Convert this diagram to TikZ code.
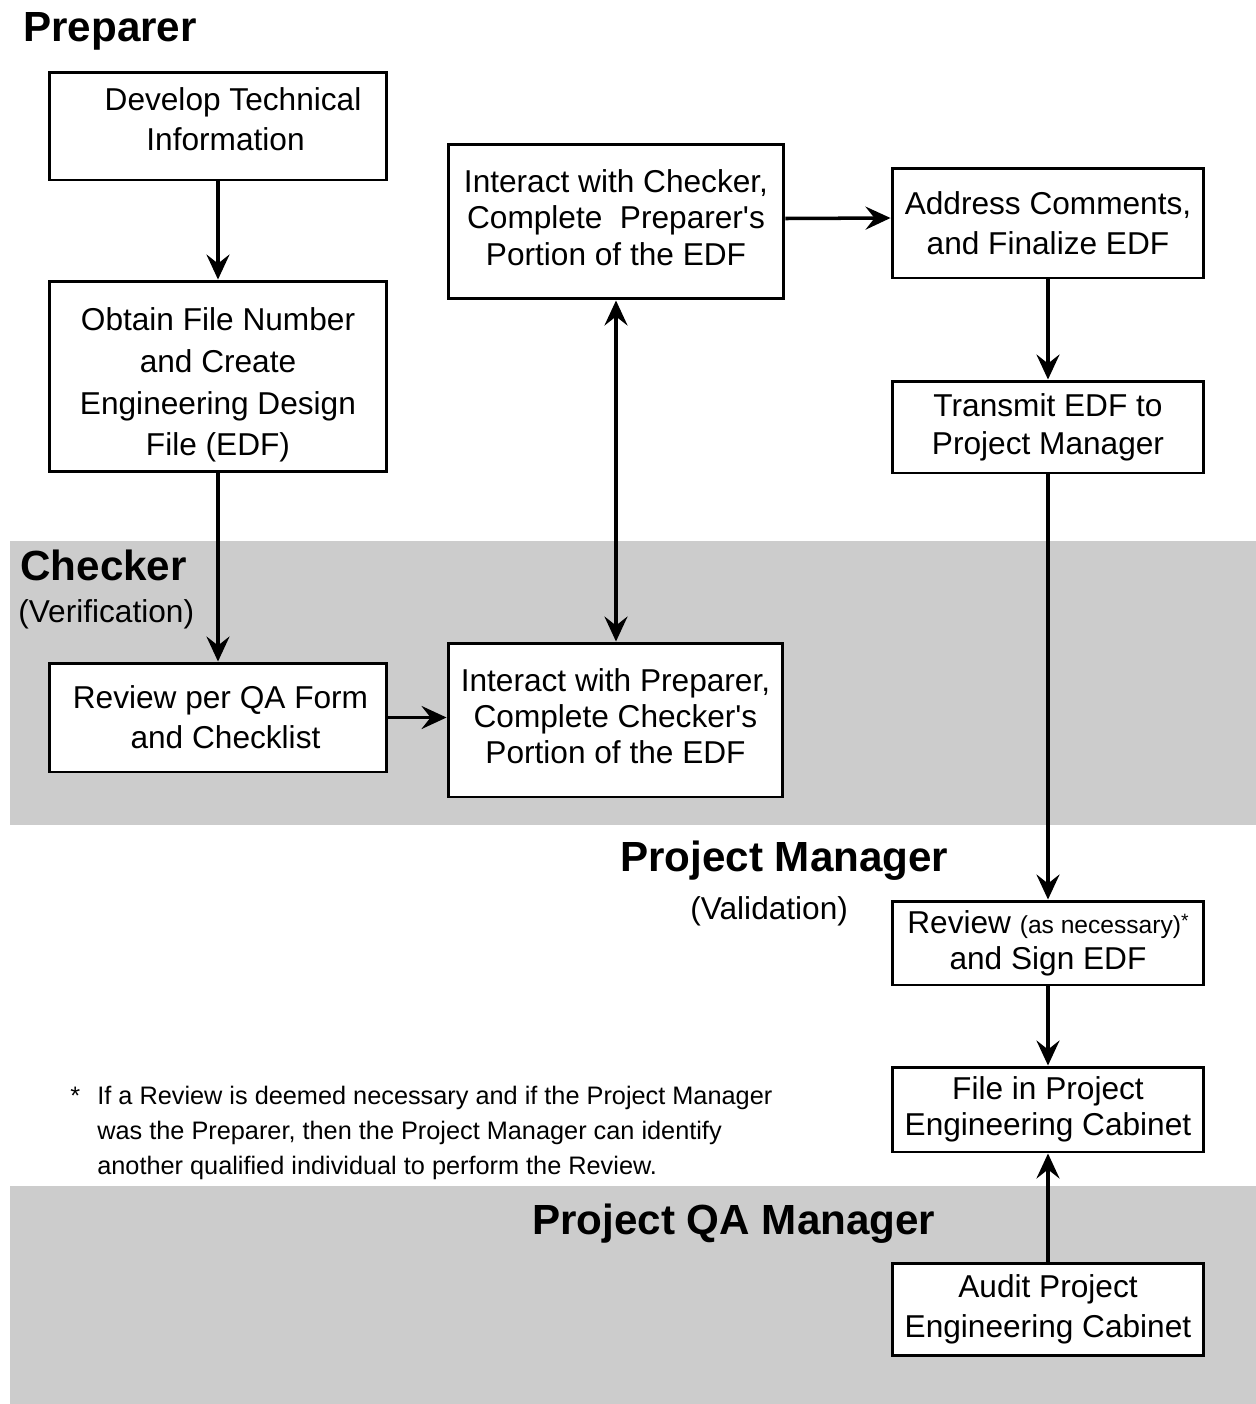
\documentclass[tikz,border=0pt]{standalone}
\usepackage{fontspec}
\setmainfont{Liberation Sans}
\definecolor{bandgray}{gray}{0.8}
\usetikzlibrary{arrows.meta, positioning}
\tikzset{
	stepbox/.style={shape=rectangle, draw=black, line width=1.7pt, fill=white,
		align=center, inner sep=1pt, font=\fontsize{18}{22.7}\selectfont},
	tightbox/.style={stepbox, font=\fontsize{18}{20.7}\selectfont},
	rolename/.style={inner sep=0pt, anchor=base west, font=\fontsize{24}{28}\selectfont\bfseries},
	rolenote/.style={inner sep=0pt, anchor=base west, font=\fontsize{18}{22}\selectfont},
	dart/.tip={Stealth[length=0.5cm, width=0.46cm, inset=0.18cm]},
	flow/.style={line width=2pt, -dart}
}
% extra depth below the last line, lifts the text in its box
\newcommand{\lift}[1]{\rule[-#1]{0pt}{#1}}

\begin{document}
\begin{tikzpicture}[x=0.02cm, y=-0.02cm]
	\useasboundingbox (0,0) rectangle (1256,1404);

	% swim lanes
	\fill[bandgray] (10,541) rectangle (1256,825);
	\fill[bandgray] (10,1186) rectangle (1256,1404);

	% role titles
	\node[rolename] at (23,41) (TPrep){Preparer};
	\node[rolename] at (20,580) (TChk){Checker};
	\node[rolenote] at (18,622) (TVer){(Verification)};
	\node[rolename] at (620,871) (TPM){Project Manager};
	\node[rolenote] at (690,919) (TVal){(Validation)};
	\node[rolename] at (532,1234) (TQA){Project QA Manager};

	% steps
	\node[stepbox, minimum width=6.76cm, minimum height=2.16cm] at (218,126) (Dev){\hspace*{0.6cm}Develop Technical\\\hspace*{0.3cm}Information\lift{0.28cm}};
	\node[stepbox, minimum width=6.76cm, minimum height=3.82cm, font=\fontsize{18}{23.8}\selectfont] at (218,376.5) (Obtain){\rule{0pt}{0.8cm}Obtain File Number\\and Create\\Engineering Design\\File (EDF)};
	\node[stepbox, minimum width=6.76cm, minimum height=2.18cm] at (218,717.5) (RevQA){\hspace*{0.1cm}Review per QA Form\\\hspace*{0.3cm}and Checklist};
	\node[tightbox, minimum width=6.72cm, minimum height=3.1cm] at (616,221.5) (PrepEDF){Interact with Checker,\\Complete\ \ Preparer\textquotesingle s\\Portion of the EDF\lift{0.16cm}};
	\node[tightbox, minimum width=6.7cm, minimum height=3.08cm] at (615.5,720) (ChkEDF){Interact with Preparer,\\Complete Checker\textquotesingle s\\Portion of the EDF\lift{0.16cm}};
	\node[stepbox, minimum width=6.24cm, minimum height=2.2cm] at (1048,223) (Addr){Address Comments,\\and Finalize EDF};
	\node[stepbox, minimum width=6.24cm, minimum height=1.84cm, font=\fontsize{18}{21.5}\selectfont] at (1048,427) (Send){Transmit EDF to\\Project Manager};
	\node[tightbox, minimum width=6.24cm, minimum height=1.68cm] at (1048,943) (Sign){Review {\fontsize{14}{16}\selectfont(as necessary)\raisebox{0.45ex}{\fontsize{11}{12}\selectfont*}}\\and Sign EDF};
	\node[tightbox, minimum width=6.24cm, minimum height=1.7cm] at (1048,1109.5) (File){File in Project\\Engineering Cabinet};
	\node[stepbox, minimum width=6.24cm, minimum height=1.84cm] at (1048,1309) (Audit){Audit Project\\Engineering Cabinet};

	% footnote
	\node[inner sep=0pt, anchor=base west, font=\fontsize{14.4}{19.9}\selectfont] at (70,1104) (Star){*};
	\node[inner sep=0pt, anchor=north west, align=left, font=\fontsize{14.4}{19.9}\selectfont] at (97,1086) (Note){If a Review is deemed necessary and if the Project Manager\\was the Preparer, then the Project Manager can identify\\another qualified individual to perform the Review.};

	% flow
	\draw[flow] (Dev) -- (Obtain);
	\draw[flow] (Obtain) -- (RevQA);
	\draw[flow] (RevQA.east) -- (RevQA.east -| ChkEDF.west);
	\draw[flow, dart-dart] (PrepEDF.south) -- (PrepEDF.south |- ChkEDF.north);
	\draw[flow] (PrepEDF.east) ++(0,-3) -- (Addr.west |- 0,218);
	\draw[flow] (Addr) -- (Send);
	\draw[flow] (Send) -- (Sign);
	\draw[flow] (Sign) -- (File);
	\draw[flow] (Audit) -- (File);
\end{tikzpicture}
\end{document}
